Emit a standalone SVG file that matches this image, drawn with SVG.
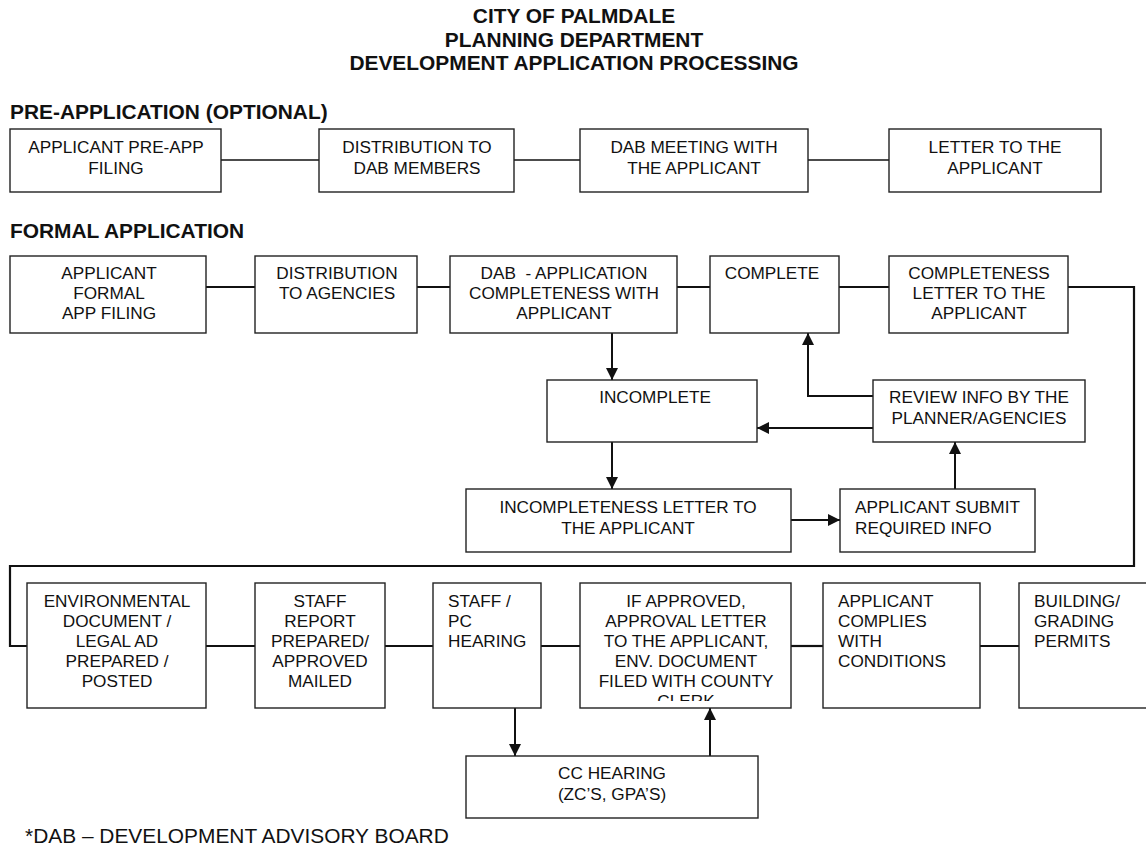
<svg xmlns="http://www.w3.org/2000/svg" width="1146" height="850" viewBox="0 0 1146 850">
<style>
  text { font-family: "Liberation Sans", Arial, sans-serif; fill: #111; }
  .t { font-size: 20.9px; font-weight: bold; text-anchor: middle; }
  .h { font-size: 20.9px; font-weight: bold; }
  .b { font-size: 17.2px; }
  .c { text-anchor: middle; }
  .box { fill: #fff; stroke: #222; stroke-width: 1.4; }
  .ln { fill: none; stroke: #111; stroke-width: 1.6; }
  .lk { fill: none; stroke: #111; stroke-width: 2.2; }
  .ar { fill: none; stroke: #111; stroke-width: 2; marker-end: url(#ah); }
</style>
<defs>
  <marker id="ah" viewBox="0 0 12 12" refX="12" refY="6" markerWidth="12" markerHeight="12" markerUnits="userSpaceOnUse" orient="auto">
    <path d="M0,0 L12,6 L0,12 Z" fill="#111"/>
  </marker>
  <clipPath id="clipApp"><rect x="580" y="583" width="211" height="118"/></clipPath>
</defs>
<rect width="1146" height="850" fill="#fff"/>

<g id="title">
  <text class="t" x="574" y="23">CITY OF PALMDALE</text>
  <text class="t" x="574" y="47">PLANNING DEPARTMENT</text>
  <text class="t" x="574" y="70">DEVELOPMENT APPLICATION PROCESSING</text>
</g>
<text class="h" x="10" y="119">PRE-APPLICATION (OPTIONAL)</text>
<text class="h" x="10" y="238">FORMAL APPLICATION</text>

<g id="connectors">
  <line class="ln" x1="221" y1="160" x2="319" y2="160"/>
  <line class="ln" x1="514" y1="160" x2="580" y2="160"/>
  <line class="ln" x1="808" y1="160" x2="889" y2="160"/>

  <line class="lk" x1="206" y1="287" x2="255" y2="287"/>
  <line class="lk" x1="417" y1="287" x2="450" y2="287"/>
  <line class="lk" x1="677" y1="287" x2="710" y2="287"/>
  <line class="lk" x1="839" y1="287" x2="889" y2="287"/>
  <polyline class="lk" points="1068,287 1134,287 1134,566 10,566 10,646 27,646"/>

  <line class="ar" x1="612" y1="333" x2="612" y2="380"/>
  <line class="ar" x1="612" y1="442" x2="612" y2="489"/>
  <line class="ar" x1="791" y1="520" x2="840" y2="520"/>
  <line class="ar" x1="955" y1="489" x2="955" y2="442"/>
  <line class="ar" x1="873" y1="428" x2="757" y2="428"/>
  <polyline class="ar" points="873,396 808,396 808,333"/>

  <line class="lk" x1="206" y1="646" x2="255" y2="646"/>
  <line class="lk" x1="385" y1="646" x2="433" y2="646"/>
  <line class="lk" x1="541" y1="646" x2="580" y2="646"/>
  <line class="lk" x1="791" y1="646" x2="823" y2="646"/>
  <line class="lk" x1="980" y1="646" x2="1019" y2="646"/>
  <line class="ar" x1="515" y1="708" x2="515" y2="756"/>
  <line class="ar" x1="710" y1="756" x2="710" y2="708"/>
</g>

<g id="pre1"><rect class="box" x="10" y="129" width="211" height="63"/>
  <text class="b c" x="116" y="153">APPLICANT PRE-APP</text><text class="b c" x="116" y="174">FILING</text></g>
<g id="pre2"><rect class="box" x="319" y="129" width="195" height="63"/>
  <text class="b c" x="417" y="153">DISTRIBUTION TO</text><text class="b c" x="417" y="174">DAB MEMBERS</text></g>
<g id="pre3"><rect class="box" x="580" y="129" width="228" height="63"/>
  <text class="b c" x="694" y="153">DAB MEETING WITH</text><text class="b c" x="694" y="174">THE APPLICANT</text></g>
<g id="pre4"><rect class="box" x="889" y="129" width="212" height="63"/>
  <text class="b c" x="995" y="153">LETTER TO THE</text><text class="b c" x="995" y="174">APPLICANT</text></g>

<g id="f1"><rect class="box" x="10" y="256" width="196" height="77"/>
  <text class="b c" x="109" y="279">APPLICANT</text><text class="b c" x="109" y="299">FORMAL</text><text class="b c" x="109" y="319">APP FILING</text></g>
<g id="f2"><rect class="box" x="255" y="256" width="162" height="77"/>
  <text class="b c" x="337" y="279">DISTRIBUTION</text><text class="b c" x="337" y="299">TO AGENCIES</text></g>
<g id="f3"><rect class="box" x="450" y="256" width="227" height="77"/>
  <text class="b c" x="564" y="279" xml:space="preserve">DAB  - APPLICATION</text><text class="b c" x="564" y="299">COMPLETENESS WITH</text><text class="b c" x="564" y="319">APPLICANT</text></g>
<g id="f4"><rect class="box" x="710" y="256" width="129" height="77"/>
  <text class="b c" x="772" y="279">COMPLETE</text></g>
<g id="f5"><rect class="box" x="889" y="256" width="179" height="77"/>
  <text class="b c" x="979" y="279">COMPLETENESS</text><text class="b c" x="979" y="299">LETTER TO THE</text><text class="b c" x="979" y="319">APPLICANT</text></g>

<g id="incomplete"><rect class="box" x="547" y="380" width="210" height="62"/>
  <text class="b c" x="655" y="403">INCOMPLETE</text></g>
<g id="review"><rect class="box" x="873" y="380" width="212" height="62"/>
  <text class="b c" x="979" y="403">REVIEW INFO BY THE</text><text class="b c" x="979" y="424">PLANNER/AGENCIES</text></g>
<g id="incletter"><rect class="box" x="466" y="489" width="325" height="63"/>
  <text class="b c" x="628" y="513">INCOMPLETENESS LETTER TO</text><text class="b c" x="628" y="534">THE APPLICANT</text></g>
<g id="submit"><rect class="box" x="840" y="489" width="195" height="63"/>
  <text class="b" x="855" y="513">APPLICANT SUBMIT</text><text class="b" x="855" y="534">REQUIRED INFO</text></g>

<g id="env"><rect class="box" x="27" y="583" width="179" height="125"/>
  <text class="b c" x="117" y="607">ENVIRONMENTAL</text><text class="b c" x="117" y="627">DOCUMENT /</text><text class="b c" x="117" y="647">LEGAL AD</text><text class="b c" x="117" y="667">PREPARED /</text><text class="b c" x="117" y="687">POSTED</text></g>
<g id="staff"><rect class="box" x="255" y="583" width="130" height="125"/>
  <text class="b c" x="320" y="607">STAFF</text><text class="b c" x="320" y="627">REPORT</text><text class="b c" x="320" y="647">PREPARED/</text><text class="b c" x="320" y="667">APPROVED</text><text class="b c" x="320" y="687">MAILED</text></g>
<g id="pc"><rect class="box" x="433" y="583" width="108" height="125"/>
  <text class="b" x="448" y="607">STAFF /</text><text class="b" x="448" y="627">PC</text><text class="b" x="448" y="647">HEARING</text></g>
<g id="approved"><rect class="box" x="580" y="583" width="211" height="125"/>
  <g clip-path="url(#clipApp)">
  <text class="b c" x="686" y="607">IF APPROVED,</text><text class="b c" x="686" y="627">APPROVAL LETTER</text><text class="b c" x="686" y="647">TO THE APPLICANT,</text><text class="b c" x="686" y="667">ENV. DOCUMENT</text><text class="b c" x="686" y="687">FILED WITH COUNTY</text><text class="b c" x="686" y="707">CLERK</text></g></g>
<g id="complies"><rect class="box" x="823" y="583" width="157" height="125"/>
  <text class="b" x="838" y="607">APPLICANT</text><text class="b" x="838" y="627">COMPLIES</text><text class="b" x="838" y="647">WITH</text><text class="b" x="838" y="667">CONDITIONS</text></g>
<g id="permits"><rect class="box" x="1019" y="583" width="140" height="125"/>
  <text class="b" x="1034" y="607">BUILDING/</text><text class="b" x="1034" y="627">GRADING</text><text class="b" x="1034" y="647">PERMITS</text></g>
<g id="cc"><rect class="box" x="466" y="756" width="292" height="62"/>
  <text class="b c" x="612" y="779">CC HEARING</text><text class="b c" x="612" y="800">(ZC’S, GPA’S)</text></g>

<text x="25" y="843" style="font-size:20.9px">*DAB – DEVELOPMENT ADVISORY BOARD</text>
</svg>
